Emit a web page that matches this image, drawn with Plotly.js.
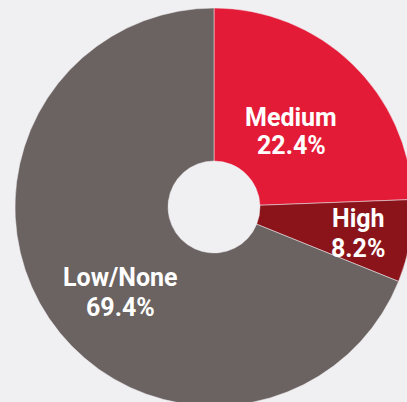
<!DOCTYPE html>
<html>
<head>
<meta charset="utf-8">
<script src="https://cdn.plot.ly/plotly-3.0.1.min.js"></script>
<style>
html, body { margin: 0; padding: 0; overflow: hidden; background: #f0eff2; }
#chart { width: 430px; height: 420px; }
</style>
</head>
<body>
<div id="chart"></div>
<script>
// Categories and their shares as printed on the chart
var categories = ["Medium", "High", "Low/None"];
var shareLabels = ["22.4%", "8.2%", "69.4%"];
// Slice sizes as drawn in the picture (angles)
var sliceSizes = [24.4, 6.7, 68.9];
var colors = ["#e31b37", "#8b141b", "#6b6361"];

// Label placement styling (fraction of radius, angle nudge in degrees)
var labelRadius = [0.544, 0.738, 0.637];
var labelAngleShift = [1.5, 0.5, -8.4];

var W = 430, H = 420;
var dom = { x: [0.0349, 0.9605], y: [0.0333, 0.9810] };

var trace = {
  type: "pie",
  labels: categories,
  values: sliceSizes,
  textinfo: "none",
  hole: 0.231,
  sort: false,
  direction: "clockwise",
  rotation: 0,
  marker: { colors: colors, line: { color: "#f0eff2", width: 0.5 } },
  hoverinfo: "none",
  domain: dom
};

// Compute label anchors from the slice data
var total = sliceSizes.reduce(function (a, b) { return a + b; }, 0);
var cx = (dom.x[0] + dom.x[1]) / 2, cy = (dom.y[0] + dom.y[1]) / 2;
var Rpx = Math.min(W * (dom.x[1] - dom.x[0]), H * (dom.y[1] - dom.y[0])) / 2;
var annotations = [];
var cum = 0;
var font = { family: "Roboto", size: 25, color: "#ffffff", weight: 700 };
sliceSizes.forEach(function (v, i) {
  var mid = (cum + v / 2) / total * 360 + labelAngleShift[i];
  cum += v;
  var th = mid * Math.PI / 180;
  var x = cx + labelRadius[i] * Rpx * Math.sin(th) / W;
  var y = cy + labelRadius[i] * Rpx * Math.cos(th) / H;
  var pitch = i === 0 ? 14 : 15;
  annotations.push({ xref: "paper", yref: "paper", x: x, y: y, yshift: pitch,
    text: categories[i], showarrow: false, font: font, xanchor: "center", yanchor: "middle" });
  annotations.push({ xref: "paper", yref: "paper", x: x, y: y, yshift: -pitch,
    text: shareLabels[i], showarrow: false, font: font, xanchor: "center", yanchor: "middle" });
});

var layout = {
  width: W,
  height: H,
  margin: { l: 0, r: 0, t: 0, b: 0 },
  paper_bgcolor: "#f0eff2",
  plot_bgcolor: "#f0eff2",
  showlegend: false,
  annotations: annotations
};

Plotly.newPlot("chart", [trace], layout, { displayModeBar: false, staticPlot: true });
</script>
</body>
</html>
